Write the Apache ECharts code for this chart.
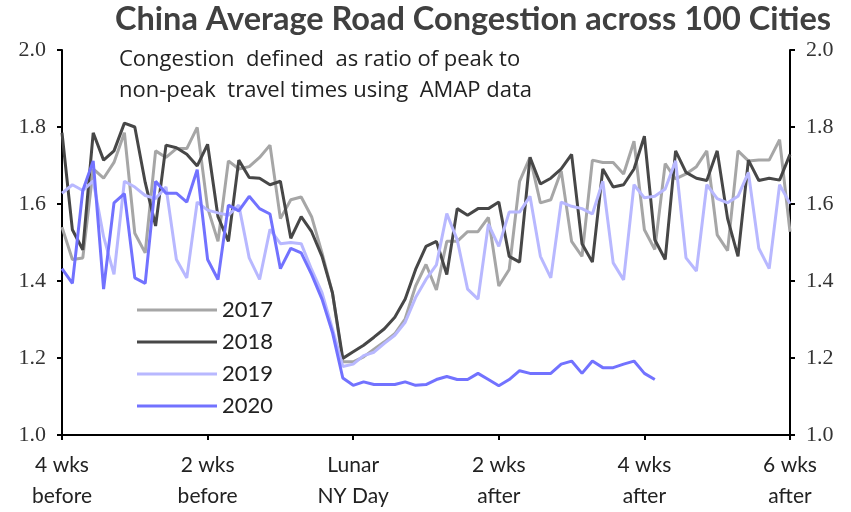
<!DOCTYPE html>
<html><head><meta charset="utf-8">
<script src="https://cdn.jsdelivr.net/npm/echarts@6/dist/echarts.min.js"></script>
<style>html,body{margin:0;padding:0;background:#fff}#c{width:851px;height:512px}</style>
</head><body><div id="c"></div>
<script>
// Days relative to Lunar New Year (-28 .. 42)
const startDay = -28;
const tickLabels = {"-28":"4 wks\nbefore","-14":"2 wks\nbefore","0":"Lunar\nNY Day","14":"2 wks\nafter","28":"4 wks\nafter","42":"6 wks\nafter"};
const seriesNames = ["2017","2018","2019","2020"];
const v2017 = [1.54,1.456,1.46,1.691,1.667,1.708,1.785,1.524,1.473,1.738,1.721,1.744,1.744,1.799,1.59,1.503,1.712,1.691,1.697,1.721,1.753,1.562,1.611,1.618,1.567,1.473,1.37,1.19,
  1.19,1.203,1.223,1.242,1.263,1.302,1.387,1.443,1.377,1.503,1.503,1.528,1.528,1.565,1.387,1.43,1.659,1.721,1.603,1.611,1.686,1.503,1.464,1.714,1.708,1.708,1.678,1.763,
  1.533,1.482,1.705,1.665,1.678,1.697,1.738,1.52,1.479,1.738,1.712,1.714,1.714,1.767,1.528];
const v2018 = [1.785,1.533,1.481,1.785,1.714,1.738,1.81,1.8,1.656,1.543,1.753,1.746,1.729,1.699,1.755,1.567,1.503,1.714,1.669,1.667,1.65,1.659,1.511,1.567,1.528,1.464,1.37,1.199,
  1.216,1.233,1.254,1.276,1.306,1.353,1.43,1.49,1.503,1.417,1.588,1.571,1.588,1.588,1.605,1.464,1.449,1.721,1.652,1.667,1.691,1.729,1.497,1.449,1.691,1.644,1.65,1.691,
  1.776,1.507,1.456,1.738,1.682,1.667,1.661,1.738,1.562,1.464,1.714,1.661,1.667,1.662,1.729];
const v2019 = [1.628,1.65,1.635,1.66,1.515,1.417,1.659,1.644,1.622,1.614,1.644,1.456,1.408,1.605,1.584,1.577,1.571,1.597,1.46,1.404,1.534,1.497,1.5,1.497,1.43,1.37,1.276,1.178,
  1.184,1.206,1.215,1.238,1.259,1.293,1.357,1.404,1.442,1.575,1.507,1.379,1.353,1.548,1.49,1.579,1.579,1.62,1.464,1.408,1.605,1.594,1.588,1.574,1.659,1.447,1.403,1.65,
  1.616,1.62,1.639,1.712,1.46,1.426,1.65,1.614,1.603,1.62,1.682,1.485,1.432,1.65,1.601];
const v2020 = [1.432,1.394,1.635,1.712,1.379,1.603,1.627,1.408,1.394,1.659,1.628,1.628,1.605,1.689,1.456,1.404,1.597,1.582,1.62,1.588,1.574,1.432,1.485,1.473,1.417,1.353,1.267,1.148,
  1.129,1.138,1.131,1.131,1.131,1.138,1.129,1.131,1.144,1.152,1.144,1.144,1.16,1.144,1.128,1.144,1.167,1.16,1.16,1.16,1.184,1.192,1.16,1.192,1.175,1.175,1.184,1.192,
  1.16,1.144];
const colors = ["#a6a6a6","#474747","#b8b8ff","#7272ff"];

const allVals = [v2017,v2018,v2019,v2020];
const toPairs = arr => arr.map((v,i)=>[startDay+i, v]);
const yLabelStyle = {fontFamily:"Liberation Serif", fontSize:22, color:"#333"};
const tick = {show:true, length:5, lineStyle:{color:"#000", width:2}};
const chart = echarts.init(document.getElementById('c'), null, {renderer:'canvas'});
chart.setOption({
  animation:false,
  title:[{text:"China Average Road Congestion across 100 Cities", left:110, top:-2,
    textStyle:{fontFamily:"Lato", fontWeight:"bold", fontSize:32.5, color:"#404040"}},
    {text:"Congestion  defined  as ratio of peak to\nnon-peak  travel times using  AMAP data", left:114, top:39,
    textStyle:{fontFamily:"Open Sans", fontWeight:"normal", fontSize:22, color:"#222", lineHeight:31}}],
  legend:{orient:"vertical", left:132, top:293, itemWidth:80, itemHeight:3, itemGap:8,
    icon:"path://M0,0H80V3H0Z",
    data:seriesNames,
    textStyle:{fontFamily:"Lato", fontSize:22, color:"#222", padding:[0,0,0,0], lineHeight:24}},
  grid:{left:62, right:61, top:50, bottom:68},
  xAxis:{type:"value", min:-28, max:42, interval:14,
    axisLine:{show:true, onZero:false, lineStyle:{color:"#000", width:2}}, axisTick:tick,
    splitLine:{show:false},
    axisLabel:{formatter:v=>tickLabels[String(v)]||"", fontFamily:"Lato", fontSize:21, color:"#222", lineHeight:31, margin:15}},
  yAxis:[{type:"value", min:1.0, max:2.0, interval:0.2, position:"left",
    axisLine:{show:true, onZero:false, lineStyle:{color:"#000", width:2}}, axisTick:tick, splitLine:{show:false},
    axisLabel:Object.assign({formatter:v=>v.toFixed(1), margin:16}, yLabelStyle)},
   {type:"value", min:1.0, max:2.0, interval:0.2, position:"right",
    axisLine:{show:true, onZero:false, lineStyle:{color:"#000", width:2}}, axisTick:tick, splitLine:{show:false},
    axisLabel:Object.assign({formatter:v=>v.toFixed(1), margin:16}, yLabelStyle)}],
  series:seriesNames.map((n,i)=>({name:n, type:"line", data:toPairs(allVals[i]), symbol:"none",
    lineStyle:{color:colors[i], width:3}, itemStyle:{color:colors[i]}, z:2+i}))
});
</script></body></html>
